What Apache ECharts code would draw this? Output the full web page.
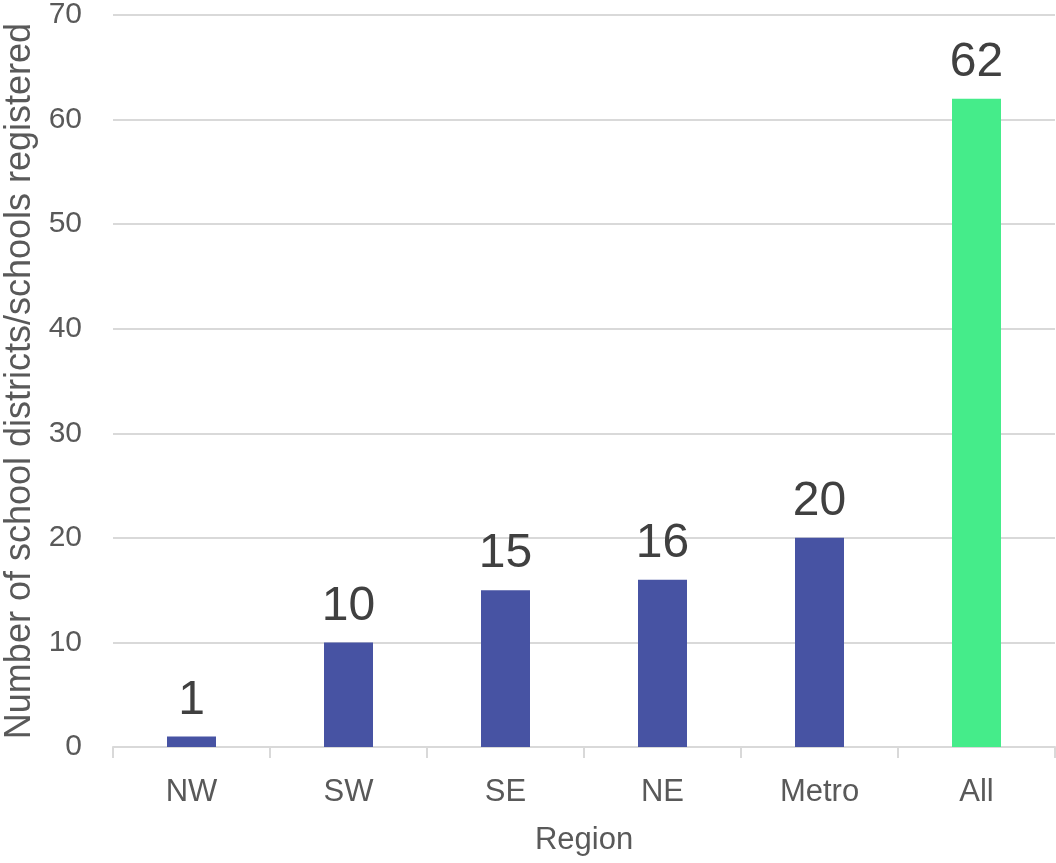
<!DOCTYPE html>
<html><head><meta charset="utf-8">
<script src="https://cdn.jsdelivr.net/npm/echarts@6/dist/echarts.min.js"></script>
<style>html,body{margin:0;padding:0;background:#fff}#c{width:1056px;height:863px}</style>
</head><body><div id="c"></div>
<script>
const categories = ['NW', 'SW', 'SE', 'NE', 'Metro', 'All'];
const values = [1, 10, 15, 16, 20, 62];
const barColors = ['#4753A3', '#4753A3', '#4753A3', '#4753A3', '#4753A3', '#45EC8A'];
const yTicks = [0, 10, 20, 30, 40, 50, 60, 70];

const chart = echarts.init(document.getElementById('c'));
chart.setOption({
  animation: false,
  grid: { left: 113, right: 1, top: 15, bottom: 116, containLabel: false, outerBoundsMode: 'none' },
  xAxis: {
    type: 'category', data: categories,
    name: 'Region', nameLocation: 'middle', nameGap: 78,
    nameTextStyle: { fontFamily: 'Liberation Sans', fontSize: 31, color: '#595959' },
    axisLine: { lineStyle: { color: '#d9d9d9', width: 2 } },
    axisTick: { show: true, length: 11, lineStyle: { color: '#d9d9d9', width: 2 } },
    axisLabel: { fontFamily: 'Liberation Sans', fontSize: 31, color: '#595959', margin: 30 }
  },
  yAxis: {
    type: 'value', min: yTicks[0], max: yTicks[yTicks.length - 1], interval: 10,
    name: 'Number of school districts/schools registered', nameLocation: 'middle', nameGap: 73,
    nameTextStyle: { fontFamily: 'Liberation Sans', fontSize: 36, color: '#595959' },
    axisLine: { show: false }, axisTick: { show: false },
    splitLine: { lineStyle: { color: '#d9d9d9', width: 2 } },
    axisLabel: { fontFamily: 'Liberation Sans', fontSize: 30, color: '#595959', margin: 31 }
  },
  series: [{
    type: 'bar', barWidth: 49,
    data: values.map((v, i) => ({ value: v, itemStyle: { color: barColors[i] } })),
    label: { show: true, position: 'top', distance: 12, fontFamily: 'Liberation Sans', fontSize: 48, color: '#404040' }
  }]
});
</script></body></html>
